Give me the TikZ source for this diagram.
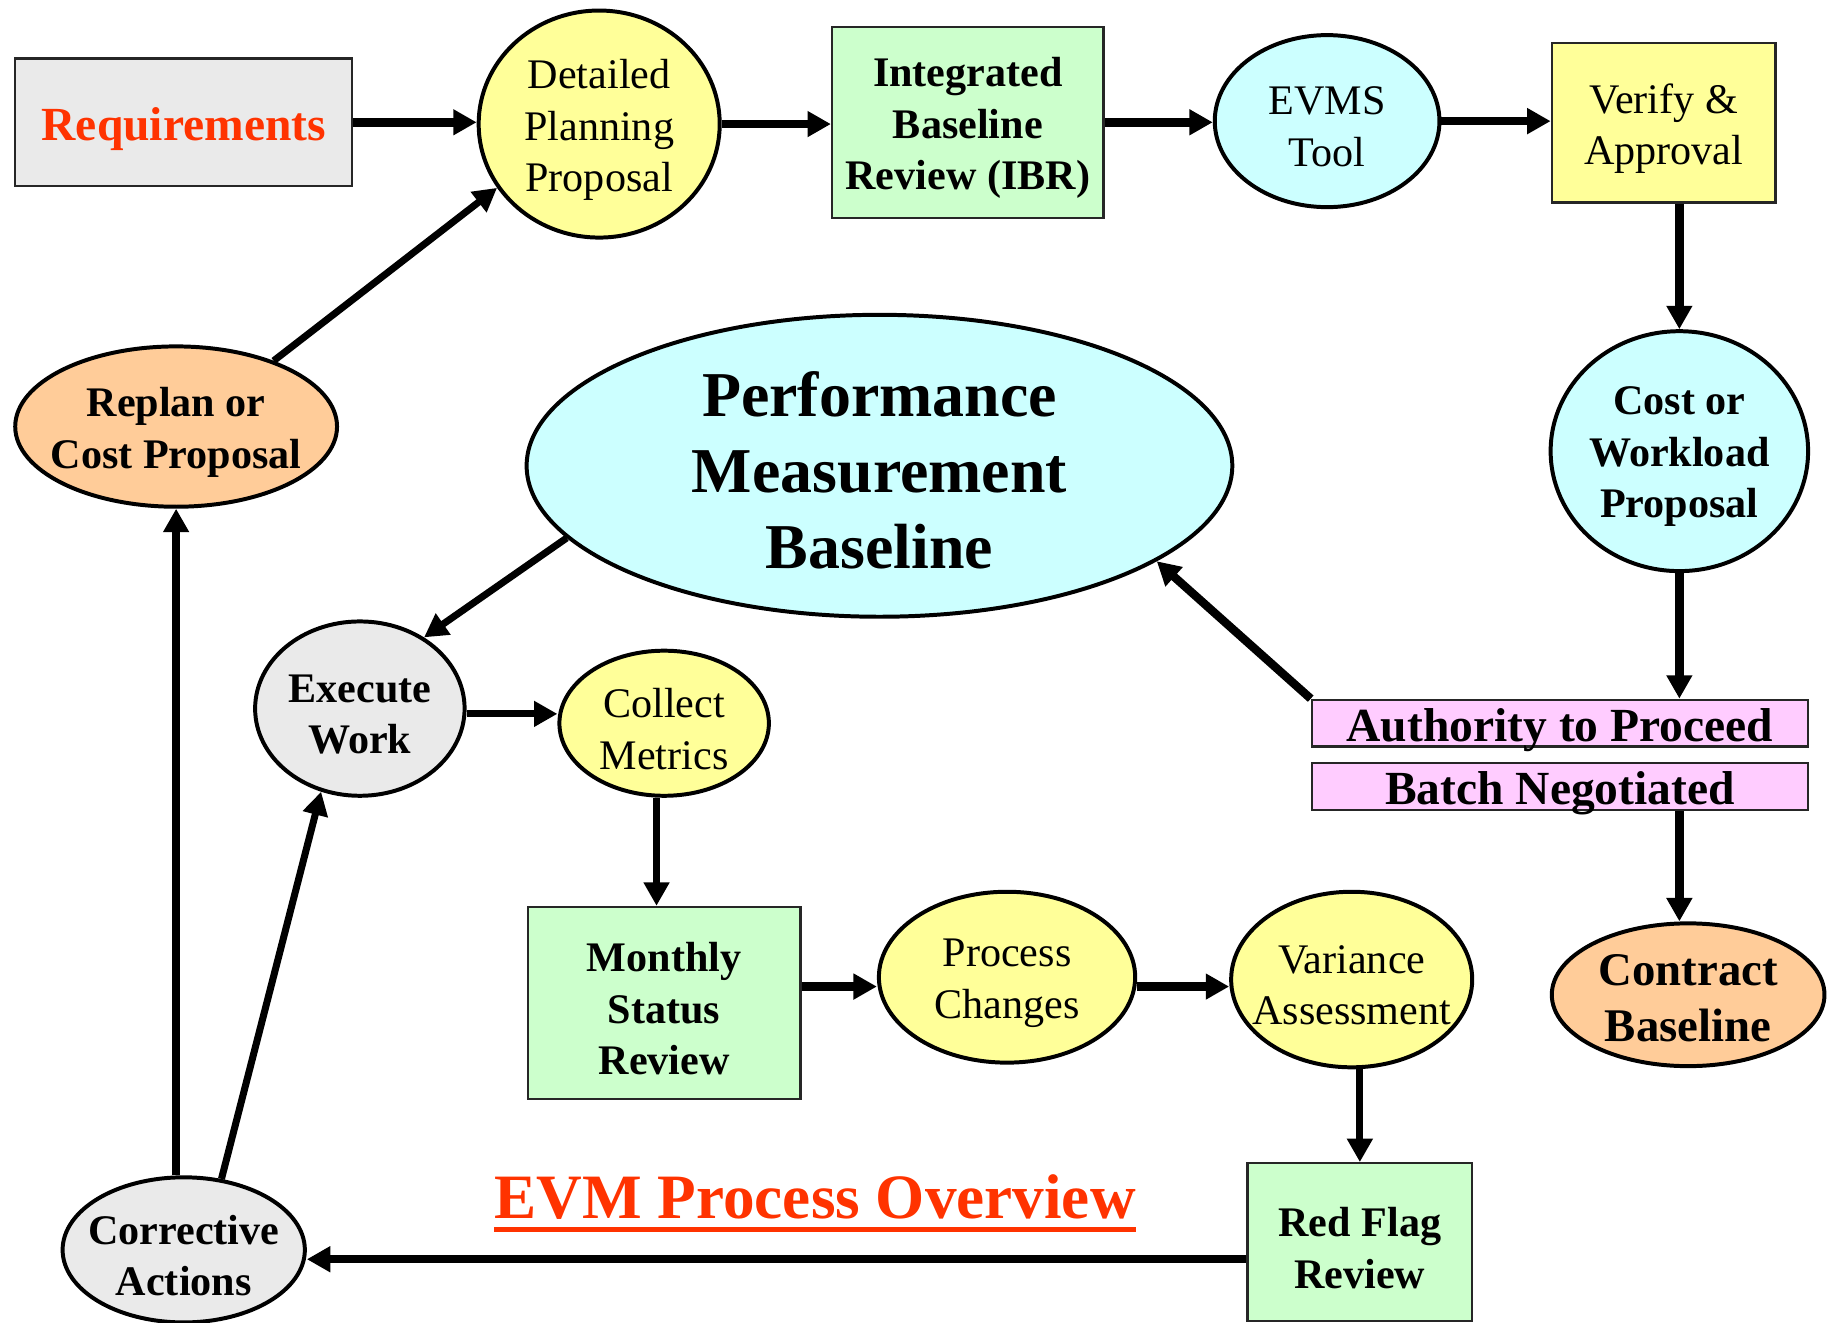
\documentclass[tikz,border=0pt]{standalone}
\usepackage{fontspec}
\setmainfont{Liberation Serif}
\usetikzlibrary{arrows.meta,shapes.geometric,calc}
\definecolor{cgray}{HTML}{EAEAEA}
\definecolor{cyel}{HTML}{FFFF99}
\definecolor{cgreen}{HTML}{CCFFCC}
\definecolor{ccyan}{HTML}{CCFFFF}
\definecolor{corange}{HTML}{FFCC99}
\definecolor{cpink}{HTML}{FFCCFF}
\definecolor{cred}{HTML}{FF3300}
\tikzset{
  boxnode/.style={rectangle, draw=black!85, line width=1pt, inner sep=0pt},
  ellnode/.style={ellipse, draw=black, line width=1.7pt, inner sep=0pt},
  txt/.style={font=\fontsize{18}{22}\selectfont, align=center, inner sep=0pt, yshift=-2.5pt},
  btxt/.style={font=\fontsize{18}{22}\selectfont\bfseries, align=center, inner sep=0pt, yshift=-2.5pt},
  bigtxt/.style={font=\fontsize{20.3}{24}\selectfont\bfseries, align=center, inner sep=0pt, yshift=-3pt},
  arr/.style={line width=3.6pt, -{Triangle[length=10pt,width=10.5pt]}},
  arrm/.style={line width=3pt, -{Triangle[length=10pt,width=10.5pt]}},
}
\begin{document}
\begin{tikzpicture}[x=0.5pt, y=-0.5pt]
\useasboundingbox (0,0) rectangle (1568,1130);

% top row
\node[boxnode, fill=cgray, minimum width=144pt, minimum height=54.5pt,
  label={[bigtxt, text=cred]center:Requirements}] (req) at (157,104.5) {};
\node[ellnode, fill=cyel, minimum width=103pt, minimum height=97pt,
  label={[txt]center:Detailed\\Planning\\Proposal}] (dp) at (512,106) {};
\node[boxnode, fill=cgreen, minimum width=116pt, minimum height=81.5pt,
  label={[btxt]center:Integrated\\Baseline\\Review (IBR)}] (ibr) at (827,104.5) {};
\node[ellnode, fill=ccyan, minimum width=96pt, minimum height=73.5pt,
  label={[txt]center:EVMS\\Tool}] (evms) at (1134,103.5) {};
\node[boxnode, fill=cyel, minimum width=95.5pt, minimum height=68pt,
  label={[txt]center:Verify \&\\Approval}] (ver) at (1421.5,105) {};

% right column
\node[ellnode, fill=ccyan, minimum width=110pt, minimum height=102.5pt,
  label={[btxt]center:Cost or\\Workload\\Proposal}] (cw) at (1435,385.5) {};
\node[boxnode, fill=cpink, minimum width=212pt, minimum height=20pt,
  label={[bigtxt]center:Authority to Proceed}] (ap) at (1333,618) {};
\node[boxnode, fill=cpink, minimum width=212pt, minimum height=20pt,
  label={[bigtxt]center:Batch Negotiated}] (bn) at (1333,672) {};
\node[ellnode, fill=corange, minimum width=116.5pt, minimum height=61pt,
  label={[font=\fontsize{20}{24}\selectfont\bfseries, align=center, inner sep=0pt, yshift=-1.5pt]center:Contract\\Baseline}] (cb) at (1442.5,850) {};

% centre
\node[ellnode, fill=ccyan, minimum width=301.5pt, minimum height=129pt,
  label={[font=\fontsize{27.3}{32.5}\selectfont\bfseries, align=center, inner sep=0pt, yshift=-2pt]center:Performance\\Measurement\\Baseline}] (pmb) at (751.5,398) {};

% left / middle
\node[ellnode, fill=corange, minimum width=137.5pt, minimum height=68.5pt,
  label={[btxt]center:Replan or\\Cost Proposal}] (rp) at (150.5,364.5) {};
\node[ellnode, fill=cgray, minimum width=89.5pt, minimum height=74.5pt,
  label={[btxt]center:Execute\\Work}] (ew) at (307.5,605.5) {};
\node[ellnode, fill=cyel, minimum width=89.5pt, minimum height=62pt,
  label={[txt]center:Collect\\Metrics}] (cm) at (567.5,618) {};
\node[boxnode, fill=cgreen, minimum width=116.5pt, minimum height=82pt,
  label={[btxt]center:Monthly\\Status\\Review}] (ms) at (567.5,857) {};
\node[ellnode, fill=cyel, minimum width=109.5pt, minimum height=73pt,
  label={[txt]center:Process\\Changes}] (pc) at (860.5,835) {};
\node[ellnode, fill=cyel, minimum width=103pt, minimum height=75pt,
  label={[txt]center:Variance\\Assessment}] (vas) at (1155,837) {};
\node[boxnode, fill=cgreen, minimum width=96pt, minimum height=67.5pt,
  label={[btxt]center:Red Flag\\Review}] (rf) at (1162,1061.5) {};
\node[ellnode, fill=cgray, minimum width=103.5pt, minimum height=62pt,
  label={[btxt]center:Corrective\\Actions}] (ca) at (157,1068) {};

% title
\node[anchor=base, inner sep=0pt, text=cred, font=\fontsize{27}{32}\selectfont\bfseries] (title) at (696.5,1041) {EVM Process Overview};
\draw[cred, line width=2.3pt] ([yshift=-4.7pt]title.base west) -- ([yshift=-4.7pt]title.base east);

% connectors
\draw[arr] (req.east) -- (req.east -| dp.west);
\draw[arr] (dp.east) -- (dp.east -| ibr.west);
\draw[arr] (ibr.east) -- (ibr.east -| evms.west);
\draw[arr] (evms.east) -- (evms.east -| ver.west);
\draw[arr] (ver.south -| cw.north) -- (cw.north);
\draw[arr] (cw.south) -- (cw.south |- ap.north);
\draw[arr] (bn.south -| cw.south) -- (cw.south |- cb.north);
\draw[arr] (ap.north west) -- (pmb.341);
\draw[arrm] (pmb.193) -- (ew.48);
\draw[arrm] (ew.east |- 0,610) -- (cm.west |- 0,610);
\draw[arrm] (cm.south -| 561,0) -- (ms.north -| 561,0);
\draw[arr] (ms.east |- 0,843) -- (pc.west |- 0,843);
\draw[arr] (pc.east |- 0,843) -- (vas.west |- 0,843);
\draw[arrm] (rf.north |- vas.south) -- (rf.north);
\draw[arr] (rf.west |- 0,1076) -- (ca.east |- 0,1076);
\draw[arr] (rp.south |- ca.north) -- (rp.south);
\draw[arrm] (ca.62) -- (ew.245);
\draw[arrm] (rp.34) -- (dp.212);
\end{tikzpicture}
\end{document}
